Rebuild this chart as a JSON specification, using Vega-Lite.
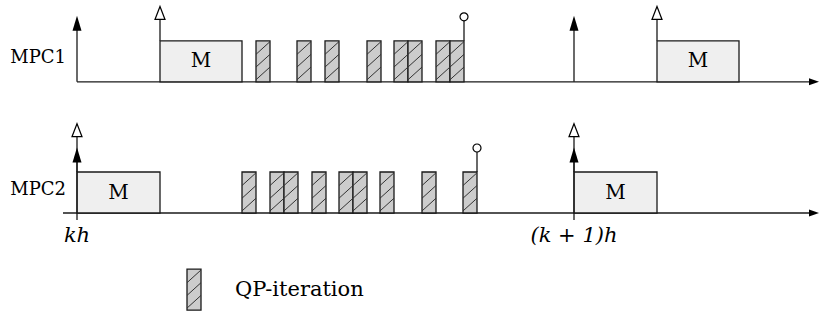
{
  "$schema": "https://vega.github.io/schema/vega-lite/v6.json",
  "width": 819,
  "height": 312,
  "padding": 0,
  "autosize": {"type": "fit", "contains": "padding"},
  "background": "white",
  "config": {"view": {"stroke": null}},
  "datasets": {
    "axes": [
      {"row": "MPC1", "from": 0, "to": 737},
      {"row": "MPC2", "from": -14, "to": 737}
    ],
    "tasks": [
      {"row": "MPC1", "start": 83, "end": 165, "label": "M"},
      {"row": "MPC1", "start": 580, "end": 662, "label": "M"},
      {"row": "MPC2", "start": 0, "end": 83, "label": "M"},
      {"row": "MPC2", "start": 497, "end": 580, "label": "M"}
    ],
    "qp": [
      {"row": "MPC1", "start": 179, "end": 193},
      {"row": "MPC1", "start": 220, "end": 234},
      {"row": "MPC1", "start": 248, "end": 262},
      {"row": "MPC1", "start": 290, "end": 304},
      {"row": "MPC1", "start": 317, "end": 331},
      {"row": "MPC1", "start": 331, "end": 345},
      {"row": "MPC1", "start": 359, "end": 373},
      {"row": "MPC1", "start": 373, "end": 387},
      {"row": "MPC2", "start": 165, "end": 179},
      {"row": "MPC2", "start": 193, "end": 207},
      {"row": "MPC2", "start": 207, "end": 221},
      {"row": "MPC2", "start": 235, "end": 249},
      {"row": "MPC2", "start": 262, "end": 276},
      {"row": "MPC2", "start": 276, "end": 290},
      {"row": "MPC2", "start": 303, "end": 317},
      {"row": "MPC2", "start": 345, "end": 359},
      {"row": "MPC2", "start": 386, "end": 400},
      {"row": "legend", "start": 110, "end": 124}
    ],
    "events": [
      {"row": "MPC1", "t": 0, "kind": "sample"},
      {"row": "MPC1", "t": 83, "kind": "publish"},
      {"row": "MPC1", "t": 387, "kind": "done"},
      {"row": "MPC1", "t": 497, "kind": "sample"},
      {"row": "MPC1", "t": 580, "kind": "publish"},
      {"row": "MPC2", "t": 0, "kind": "sample"},
      {"row": "MPC2", "t": 0, "kind": "publish"},
      {"row": "MPC2", "t": 400, "kind": "done"},
      {"row": "MPC2", "t": 497, "kind": "sample"},
      {"row": "MPC2", "t": 497, "kind": "publish"}
    ],
    "rowlabels": [
      {"row": "MPC1", "t": -11, "label": "MPC1"},
      {"row": "MPC2", "t": -11, "label": "MPC2"}
    ],
    "ticklabels": [
      {"row": "MPC2", "t": 0, "label": "kh"},
      {"row": "MPC2", "t": 497, "label": "(k + 1)h"}
    ],
    "legend": [
      {"row": "legend", "t": 158, "label": "QP-iteration"}
    ]
  },
  "layer": [
    {
      "data": {"name": "axes"},
      "transform": [{"calculate": "datum.row === 'MPC1' ? 3.2 : 0", "as": "base"}],
      "mark": {"type": "rule", "stroke": "#1a1a1a", "strokeWidth": 1.3},
      "encoding": {
        "x": {"field": "from", "type": "quantitative", "scale": {"domain": [-77, 742], "nice": false, "zero": false}, "axis": null},
        "x2": {"field": "to"},
        "y": {"field": "base", "type": "quantitative", "scale": {"domain": [-2.4146, 5.1951], "nice": false, "zero": false}, "axis": null}
      }
    },
    {
      "data": {"name": "axes"},
      "transform": [{"calculate": "datum.row === 'MPC1' ? 3.2 : 0", "as": "base"}],
      "mark": {"type": "point", "shape": "M1,0L-1,-0.7L-1,0.7Z", "filled": true, "color": "#000", "size": 100, "opacity": 1},
      "encoding": {
        "x": {"field": "to", "type": "quantitative", "scale": {"domain": [-77, 742], "nice": false, "zero": false}, "axis": null},
        "y": {"field": "base", "type": "quantitative", "scale": {"domain": [-2.4146, 5.1951], "nice": false, "zero": false}, "axis": null}
      }
    },
    {
      "data": {"name": "tasks"},
      "transform": [
        {"calculate": "datum.row === 'MPC1' ? 3.2 : 0", "as": "base"},
        {"calculate": "datum.base + 1", "as": "top"},
        {"calculate": "(datum.start + datum.end) / 2", "as": "mid"},
        {"calculate": "datum.base + 0.5", "as": "ymid"}
      ],
      "layer": [
        {
          "mark": {"type": "rect", "fill": "#efefef", "stroke": "#1a1a1a", "strokeWidth": 1.3},
          "encoding": {
            "x": {"field": "start", "type": "quantitative", "scale": {"domain": [-77, 742], "nice": false, "zero": false}, "axis": null},
            "x2": {"field": "end"},
            "y": {"field": "base", "type": "quantitative", "scale": {"domain": [-2.4146, 5.1951], "nice": false, "zero": false}, "axis": null},
            "y2": {"field": "top"}
          }
        },
        {
          "mark": {"type": "text", "font": "DejaVu Serif", "fontSize": 20, "color": "#000", "baseline": "middle", "align": "center"},
          "encoding": {
            "x": {"field": "mid", "type": "quantitative", "scale": {"domain": [-77, 742], "nice": false, "zero": false}, "axis": null},
            "y": {"field": "ymid", "type": "quantitative", "scale": {"domain": [-2.4146, 5.1951], "nice": false, "zero": false}, "axis": null},
            "text": {"field": "label"}
          }
        }
      ]
    },
    {
      "data": {"name": "qp"},
      "transform": [
        {"calculate": "datum.row === 'MPC1' ? 3.2 : datum.row === 'MPC2' ? 0 : -2.37", "as": "base"},
        {"calculate": "datum.base + 1", "as": "top"}
      ],
      "mark": {"type": "rect", "fill": "#cccccc", "stroke": "#1a1a1a", "strokeWidth": 1.3},
      "encoding": {
        "x": {"field": "start", "type": "quantitative", "scale": {"domain": [-77, 742], "nice": false, "zero": false}, "axis": null},
        "x2": {"field": "end"},
        "y": {"field": "base", "type": "quantitative", "scale": {"domain": [-2.4146, 5.1951], "nice": false, "zero": false}, "axis": null},
        "y2": {"field": "top"}
      }
    },
    {
      "data": {"name": "qp"},
      "transform": [
        {"calculate": "datum.row === 'MPC1' ? 3.2 : datum.row === 'MPC2' ? 0 : -2.37", "as": "base"},
        {"calculate": "[0, 1, 2]", "as": "k"},
        {"flatten": ["k"]},
        {"calculate": "datum.base + 0.05 + 0.31 * datum.k", "as": "h0"},
        {"calculate": "datum.h0 + 0.31", "as": "h1"}
      ],
      "mark": {"type": "rule", "stroke": "#333", "strokeWidth": 1},
      "encoding": {
        "x": {"field": "start", "type": "quantitative", "scale": {"domain": [-77, 742], "nice": false, "zero": false}, "axis": null},
        "x2": {"field": "end"},
        "y": {"field": "h0", "type": "quantitative", "scale": {"domain": [-2.4146, 5.1951], "nice": false, "zero": false}, "axis": null},
        "y2": {"field": "h1"}
      }
    },
    {
      "data": {"name": "events"},
      "transform": [
        {"calculate": "datum.row === 'MPC1' ? 3.2 : 0", "as": "base"},
        {"calculate": "datum.base + (datum.kind === 'sample' ? (datum.row === 'MPC2' ? -0.17 : 0) : 1)", "as": "lo"},
        {"calculate": "datum.base + (datum.kind === 'sample' ? 1.43 : datum.kind === 'publish' ? (datum.row === 'MPC2' ? 1.9 : 1.6) : 1.5)", "as": "hi"},
        {"calculate": "datum.base + (datum.kind === 'sample' ? (datum.row === 'MPC2' ? 1.415 : 1.427) : datum.kind === 'publish' ? (datum.row === 'MPC2' ? 2.02 : 1.68) : 1.585)", "as": "head"}
      ],
      "layer": [
        {
          "mark": {"type": "rule", "stroke": "#1a1a1a", "strokeWidth": 1.3},
          "encoding": {
            "x": {"field": "t", "type": "quantitative", "scale": {"domain": [-77, 742], "nice": false, "zero": false}, "axis": null},
            "y": {"field": "lo", "type": "quantitative", "scale": {"domain": [-2.4146, 5.1951], "nice": false, "zero": false}, "axis": null},
            "y2": {"field": "hi"}
          }
        },
        {
          "transform": [{"filter": "datum.kind === 'sample'"}],
          "mark": {"type": "point", "shape": "M0,-1L0.6,1L-0.6,1Z", "filled": true, "color": "#000", "size": 225, "opacity": 1},
          "encoding": {
            "x": {"field": "t", "type": "quantitative", "scale": {"domain": [-77, 742], "nice": false, "zero": false}, "axis": null},
            "y": {"field": "head", "type": "quantitative", "scale": {"domain": [-2.4146, 5.1951], "nice": false, "zero": false}, "axis": null}
          }
        },
        {
          "transform": [{"filter": "datum.kind === 'publish'"}],
          "mark": {"type": "point", "shape": "M0,-1L0.77,1L-0.77,1Z", "filled": true, "fill": "white", "stroke": "#000", "strokeWidth": 1.2, "size": 169, "opacity": 1},
          "encoding": {
            "x": {"field": "t", "type": "quantitative", "scale": {"domain": [-77, 742], "nice": false, "zero": false}, "axis": null},
            "y": {"field": "head", "type": "quantitative", "scale": {"domain": [-2.4146, 5.1951], "nice": false, "zero": false}, "axis": null}
          }
        },
        {
          "transform": [{"filter": "datum.kind === 'done'"}],
          "mark": {"type": "point", "shape": "circle", "filled": true, "fill": "white", "stroke": "#000", "strokeWidth": 1.2, "size": 64, "opacity": 1},
          "encoding": {
            "x": {"field": "t", "type": "quantitative", "scale": {"domain": [-77, 742], "nice": false, "zero": false}, "axis": null},
            "y": {"field": "head", "type": "quantitative", "scale": {"domain": [-2.4146, 5.1951], "nice": false, "zero": false}, "axis": null}
          }
        }
      ]
    },
    {
      "data": {"name": "rowlabels"},
      "transform": [{"calculate": "(datum.row === 'MPC1' ? 3.2 : 0) + 0.57", "as": "ly"}],
      "mark": {"type": "text", "font": "DejaVu Serif", "fontSize": 18, "color": "#000", "align": "right", "baseline": "middle"},
      "encoding": {
        "x": {"field": "t", "type": "quantitative", "scale": {"domain": [-77, 742], "nice": false, "zero": false}, "axis": null},
        "y": {"field": "ly", "type": "quantitative", "scale": {"domain": [-2.4146, 5.1951], "nice": false, "zero": false}, "axis": null},
        "text": {"field": "label"}
      }
    },
    {
      "data": {"name": "ticklabels"},
      "transform": [{"calculate": "-0.56", "as": "ly"}],
      "mark": {"type": "text", "font": "DejaVu Serif", "fontStyle": "italic", "fontSize": 21, "color": "#000", "align": "center", "baseline": "middle"},
      "encoding": {
        "x": {"field": "t", "type": "quantitative", "scale": {"domain": [-77, 742], "nice": false, "zero": false}, "axis": null},
        "y": {"field": "ly", "type": "quantitative", "scale": {"domain": [-2.4146, 5.1951], "nice": false, "zero": false}, "axis": null},
        "text": {"field": "label"}
      }
    },
    {
      "data": {"name": "legend"},
      "transform": [{"calculate": "-1.88", "as": "ly"}],
      "mark": {"type": "text", "font": "DejaVu Serif", "fontSize": 21, "color": "#000", "align": "left", "baseline": "middle"},
      "encoding": {
        "x": {"field": "t", "type": "quantitative", "scale": {"domain": [-77, 742], "nice": false, "zero": false}, "axis": null},
        "y": {"field": "ly", "type": "quantitative", "scale": {"domain": [-2.4146, 5.1951], "nice": false, "zero": false}, "axis": null},
        "text": {"field": "label"}
      }
    }
  ]
}
